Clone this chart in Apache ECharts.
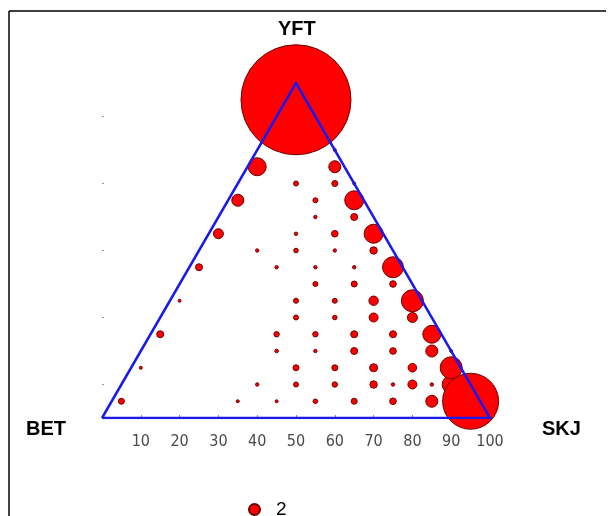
<!DOCTYPE html>
<html><head><meta charset="utf-8">
<script src="https://cdn.jsdelivr.net/npm/echarts@6/dist/echarts.min.js"></script>
<style>html,body{margin:0;padding:0;background:#fff}#c{width:609px;height:516px}</style>
</head><body><div id="c"></div>
<script>
// horizontal ternary position (0 = BET vertex, 100 = SKJ vertex)
const xVals = [50,60,40,60,50,60,65,35,55,65,55,65,30,50,60,70,40,50,60,70,25,45,55,65,75,55,65,75,20,50,60,70,80,50,60,70,80,15,45,55,65,75,85,45,55,65,75,85,90,10,50,60,70,80,90,40,50,60,70,75,80,85,90,5,35,45,55,65,75,85,95];
// YFT share (%)
const yftVals = [95,80,75,75,70,70,70,65,65,65,60,60,55,55,55,55,50,50,50,50,45,45,45,45,45,40,40,40,35,35,35,35,35,30,30,30,30,25,25,25,25,25,25,20,20,20,20,20,20,15,15,15,15,15,15,10,10,10,10,10,10,10,10,5,5,5,5,5,5,5,5];
// bubble values (legend reference = 2)
const sizeVals = [242,0.18,6.5,2.9,0.5,0.72,0.18,2.9,0.5,7.2,0.23,0.98,2,0.23,0.87,7.2,0.23,0.42,0.23,1.1,0.98,0.23,0.23,0.23,8.8,0.5,0.72,0.87,0.18,0.5,0.5,1.77,9.7,0.5,0.42,1.62,2,0.98,0.58,0.58,0.98,0.98,6.5,0.26,0.23,0.98,0.87,2.9,0.18,0.18,0.72,0.72,1.28,1.48,9.7,0.23,0.5,0.58,1.1,0.23,1.62,0.23,6.5,0.72,0.18,0.18,0.42,0.72,0.87,2.9,62.7];
const legendName = '2';
const xTicks = [10,20,30,40,50,60,70,80,90,100];
const yTicks = [10,30,50,70,90];
const triX = [0,50,100,0];
const triY = [0,100,0,0];
const vertexLabels = ['BET','YFT','SKJ'];

const bubbles = xVals.map((x,i)=>[x, yftVals[i], sizeVals[i]]).sort((a,b)=>a[2]-b[2]);
const tri = triX.map((x,i)=>[x, triY[i]]);
const legendVal = Number(legendName);
const rad = v => 5*Math.sqrt(v/legendVal);

const chart = echarts.init(document.getElementById('c'), null, {renderer:'canvas'});
chart.setOption({
  animation:false,
  backgroundColor:'#fff',
  grid:{left:102, top:83, width:388, height:335, containLabel:false},
  xAxis:{type:'value', min:0, max:100, interval:10,
    axisLine:{show:false},
    axisTick:{show:true, inside:true, length:3, lineStyle:{color:'#8888aa'}, customValues:xTicks},
    axisLabel:{customValues:xTicks, color:'#4a4a4a', fontSize:16, margin:16,
      fontFamily:"'Liberation Sans Narrow','DejaVu Sans Condensed','Roboto Condensed',sans-serif"},
    splitLine:{show:false}},
  yAxis:{type:'value', min:0, max:100,
    axisLine:{show:false}, axisLabel:{show:false},
    axisTick:{show:true, length:2, inside:true, lineStyle:{color:'#999'}, customValues:yTicks},
    splitLine:{show:false}},
  legend:{show:true, data:[{name:legendName, icon:'circle'}], left:243, top:495,
    itemWidth:11, itemHeight:11, itemGap:6,
    textStyle:{fontSize:19, color:'#000', fontFamily:"'Liberation Sans',Arial,sans-serif", padding:[0,0,0,11]}},
  graphic:[
    {type:'line', shape:{x1:9,y1:11,x2:606,y2:11}, style:{stroke:'#000', lineWidth:1.5}},
    {type:'line', shape:{x1:9,y1:11,x2:9,y2:516}, style:{stroke:'#000', lineWidth:1.5}},
    {type:'text', left:26, top:419, style:{text:vertexLabels[0], font:"bold 20px 'Liberation Sans',Arial,sans-serif", fill:'#000'}},
    {type:'text', left:278, top:19, style:{text:vertexLabels[1], font:"bold 20px 'Liberation Sans',Arial,sans-serif", fill:'#000'}},
    {type:'text', left:542, top:419, style:{text:vertexLabels[2], font:"bold 20px 'Liberation Sans',Arial,sans-serif", fill:'#000'}}
  ],
  series:[
    {name:legendName, type:'scatter', data:bubbles, z:2,
      symbol:'circle',
      symbolSize: d => 2*rad(d[2]),
      itemStyle:{color:'#ff0000', borderColor:'#6b0000', borderWidth:1, opacity:1}},
    {name:'triangle', type:'line', data:tri, z:3, symbol:'none',
      lineStyle:{color:'#1a1aee', width:2.5, join:'miter'}, silent:true}
  ]
});
</script></body></html>
